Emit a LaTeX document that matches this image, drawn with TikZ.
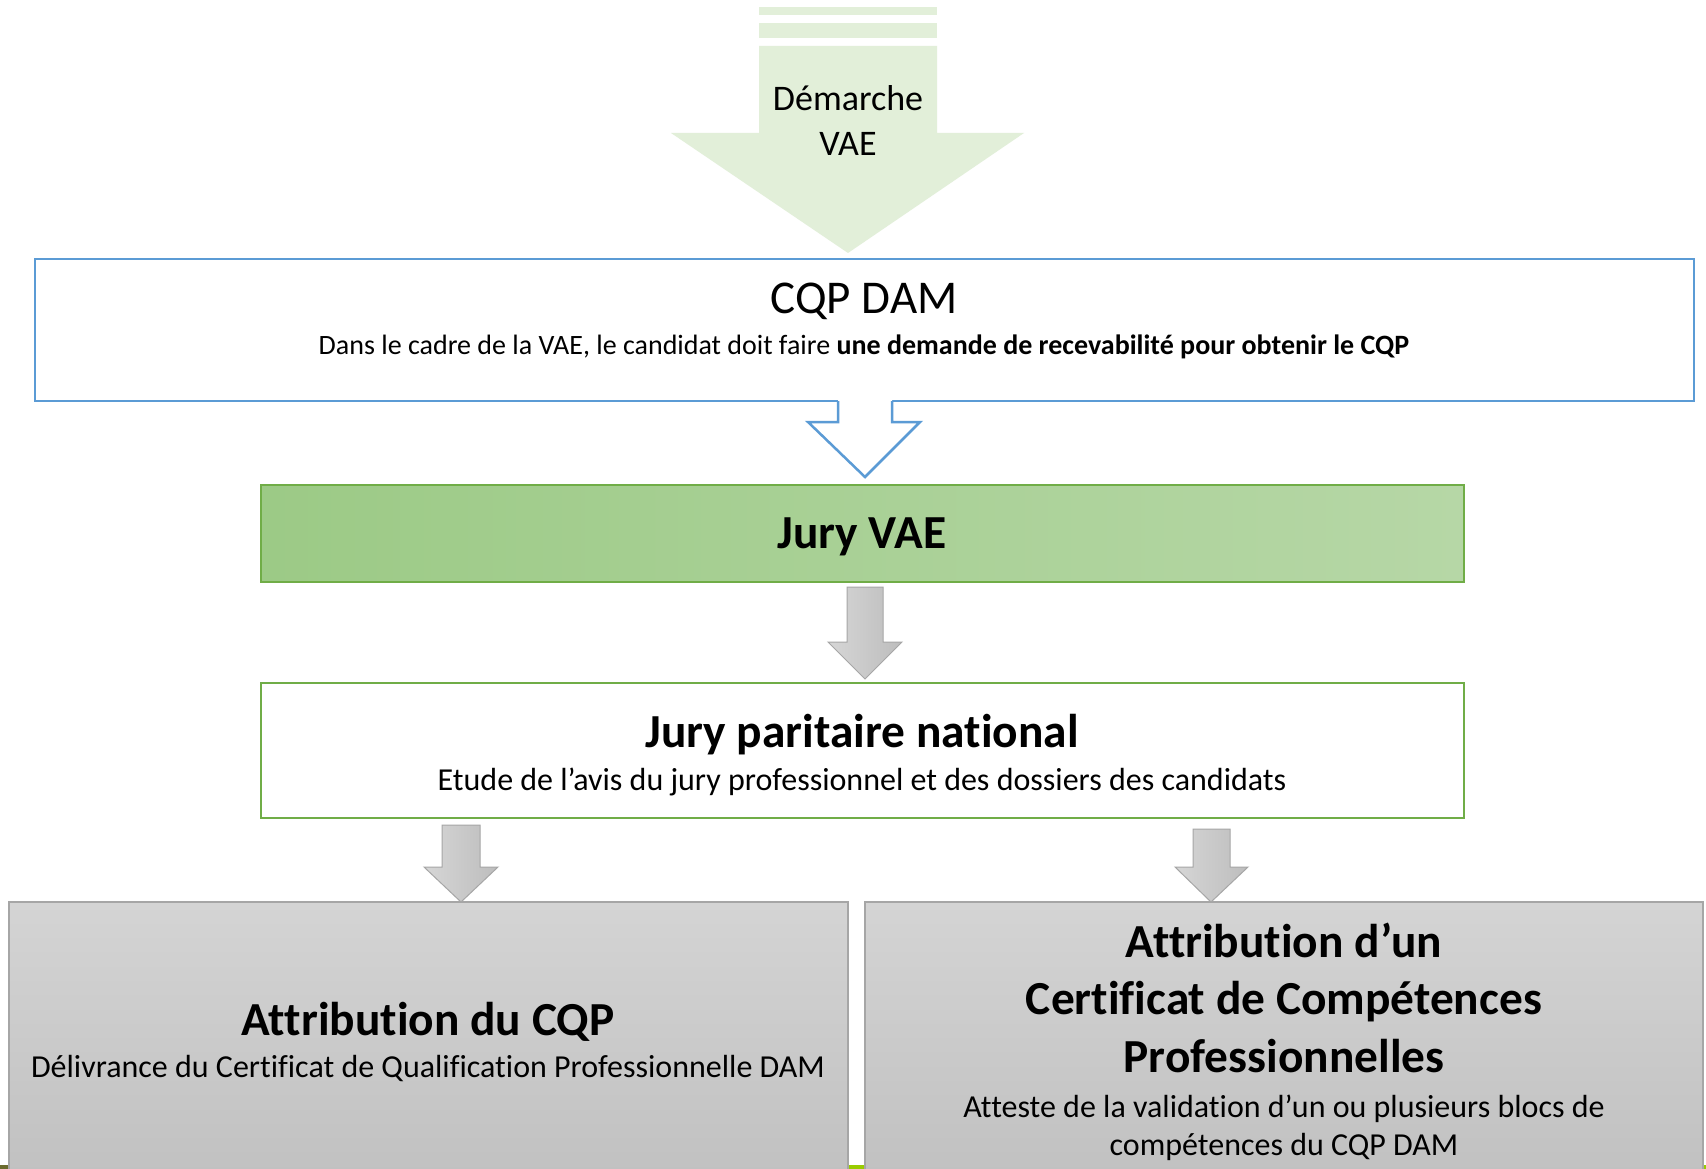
\documentclass[tikz,border=0pt]{standalone}
\usepackage{fontspec}
\setmainfont{Carlito}[RawFeature={-liga;-clig;-calt;-dlig}]
\usetikzlibrary{calc}
\definecolor{blueline}{HTML}{5B9BD5}
\definecolor{greenline}{HTML}{70AD47}
\definecolor{lightgreen}{HTML}{E2EFD9}
\definecolor{jurygreenL}{RGB}{156,202,134}
\definecolor{jurygreenR}{RGB}{182,215,166}
\definecolor{grayline}{HTML}{A6A6A6}
\definecolor{grayTop}{HTML}{D4D4D4}
\definecolor{grayBot}{HTML}{BFBFBF}
\definecolor{arrowL}{HTML}{D6D6D6}
\definecolor{arrowR}{HTML}{BDBDBD}
\definecolor{stripgreen}{HTML}{99CC00}
\definecolor{olivebar}{HTML}{6B6B2E}
\tikzset{
  boxbase/.style={rectangle, inner sep=0pt, outer sep=0pt, anchor=north west},
  bluebox/.style={boxbase, draw=blueline, line width=2.5pt, fill=white},
  juryvaebox/.style={boxbase, draw=greenline, line width=2pt, left color=jurygreenL, right color=jurygreenR},
  greenbox/.style={boxbase, draw=greenline, line width=2.5pt, fill=white},
  graybox/.style={boxbase, draw=grayline, line width=1.5pt, top color=grayTop, bottom color=grayBot},
  grayarrow/.style={draw=grayline, line width=1pt, left color=arrowL, right color=arrowR, line join=miter},
  bigtitle/.style={inner sep=0pt, anchor=base, align=center, font=\fontsize{47.4}{57.3}\selectfont\bfseries},
  regtitle/.style={inner sep=0pt, anchor=base, align=center, font=\fontsize{47}{57.3}\selectfont},
  subtext/.style={inner sep=0pt, anchor=base, align=center, font=\fontsize{32}{38}\selectfont},
  smalltext/.style={inner sep=0pt, anchor=base, align=center, font=\fontsize{28}{34}\selectfont},
  vaetext/.style={inner sep=0pt, anchor=base, align=center, font=\fontsize{36}{45}\selectfont},
}
\begin{document}
\begin{tikzpicture}[x=1pt,y=-1pt]
\useasboundingbox (0,0) rectangle (1706,1169);
\clip (0,0) rectangle (1706,1169);
\fill[white] (0,0) rectangle (1706,1169);

% bottom strip (partly hidden)
\fill[stripgreen] (0,1165) rectangle (1706,1169);
\fill[olivebar] (0,1165) rectangle (9,1169);

% Demarche VAE arrow
\fill[lightgreen] (759,7) rectangle (937,15);
\fill[lightgreen] (759,23) rectangle (937,38);
\fill[lightgreen] (759,46) -- (937,46) -- (937,133) -- (1024,133) -- (848,253)
   -- (671,133) -- (759,133) -- cycle;
\node[vaetext] (demarche) at (848,156) {Démarche\\VAE};

% CQP DAM box
\node[bluebox, minimum width=1659pt, minimum height=142pt] (cqp) at (35,259) {};
\node[regtitle] (cqptitle) at (864,313) {CQP DAM};
\node[smalltext] (cqpsub) at (864,354) {Dans le cadre de la VAE, le candidat doit faire \textbf{une demande de recevabilité pour obtenir le CQP}};

% Jury VAE box
\node[juryvaebox, minimum width=1203pt, minimum height=97pt] (juryvae) at (261,485) {};
\node[bigtitle] (juryvaetitle) at (862,548) {Jury VAE};

% hollow blue arrow from cqp to juryvae
\coordinate (b0) at (cqp.south -| 865,0);
\coordinate (btip) at (juryvae.north -| 865,0);
\fill[white] ($(b0)+(-27,-3)$) -- ($(b0)+(-27,21)$) -- ($(b0)+(-57,21)$) -- ($(btip)+(0,-8)$)
   -- ($(b0)+(55,21)$) -- ($(b0)+(27,21)$) -- ($(b0)+(27,-3)$) -- cycle;
\draw[blueline, line width=2.5pt, line join=miter]
   ($(b0)+(-27,0)$) -- ($(b0)+(-27,21)$) -- ($(b0)+(-57,21)$) -- ($(btip)+(0,-8)$)
   -- ($(b0)+(55,21)$) -- ($(b0)+(27,21)$) -- ($(b0)+(27,0)$);

% Jury paritaire box
\node[greenbox, minimum width=1203pt, minimum height=135pt] (jurypar) at (261,683) {};
\node[bigtitle] (jurypartitle) at (862,747) {Jury paritaire national};
\node[subtext] (jurypar sub) at (862,790) {Etude de l’avis du jury professionnel et des dossiers des candidats};

% gray arrow juryvae -> jurypar
\coordinate (g1top) at (865,587);
\coordinate (g1tip) at (jurypar.north -| 865,0);
\draw[grayarrow] ($(g1top)+(-18,0)$) -- ($(g1top)+(18,0)$) -- ($(g1top)+(18,55)$) -- ($(g1top)+(37,55)$)
   -- ($(g1tip)+(0,-4)$) -- ($(g1top)+(-37,55)$) -- ($(g1top)+(-18,55)$) -- cycle;

% bottom boxes
\node[graybox, minimum width=839pt, minimum height=300pt] (cqpbox) at (9,902) {};
\node[graybox, minimum width=838pt, minimum height=300pt] (ccpbox) at (865,902) {};
\node[bigtitle] (cqpboxtitle) at (428,1035) {Attribution du CQP};
\node[subtext] (cqpboxsub) at (428,1077) {Délivrance du Certificat de Qualification Professionnelle DAM};
\node[bigtitle] (ccptitle) at (1284,1072) {Attribution d’un\\Certificat de Compétences\\Professionnelles};
\node[subtext] (ccpsub) at (1284,1155) {Atteste de la validation d’un ou plusieurs blocs de\\compétences du CQP DAM};

% gray arrow jurypar -> cqpbox
\coordinate (g2top) at (461,825);
\coordinate (g2tip) at (cqpbox.north -| 461,0);
\draw[grayarrow] ($(g2top)+(-19,0)$) -- ($(g2top)+(19,0)$) -- ($(g2top)+(19,42)$) -- ($(g2top)+(37,42)$)
   -- (g2tip) -- ($(g2top)+(-37,42)$) -- ($(g2top)+(-19,42)$) -- cycle;

% gray arrow jurypar -> ccpbox
\coordinate (g3top) at (1211,829);
\coordinate (g3tip) at (ccpbox.north -| 1211,0);
\draw[grayarrow] ($(g3top)+(-18,0)$) -- ($(g3top)+(19,0)$) -- ($(g3top)+(19,38)$) -- ($(g3top)+(37,38)$)
   -- (g3tip) -- ($(g3top)+(-36,38)$) -- ($(g3top)+(-18,38)$) -- cycle;
\end{tikzpicture}
\end{document}
